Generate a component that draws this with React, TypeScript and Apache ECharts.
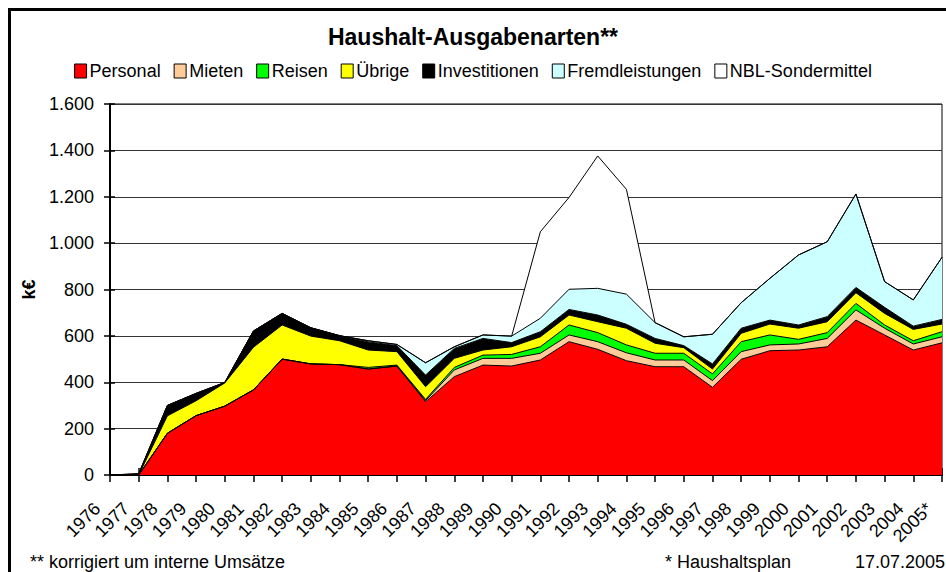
import React, { useEffect, useRef } from "react";
import * as echarts from "echarts";

const years = [
  "1976", "1977", "1978", "1979", "1980", "1981", "1982", "1983", "1984", "1985",
  "1986", "1987", "1988", "1989", "1990", "1991", "1992", "1993", "1994", "1995",
  "1996", "1997", "1998", "1999", "2000", "2001", "2002", "2003", "2004", "2005*",
];

const personal = [0, 0, 180, 256, 297, 367, 500, 479, 476, 457, 470, 316, 424, 474, 470, 496, 575, 542, 493, 467, 467, 378, 499, 536, 539, 553, 668, 604, 539, 570];
const mieten = [0, 0, 0, 0, 0, 0, 0, 0, 0, 0, 0, 5, 29, 29, 33, 29, 29, 33, 34, 29, 29, 29, 33, 25, 26, 36, 44, 29, 26, 26];
const reisen = [0, 0, 0, 0, 0, 0, 0, 0, 0, 7, 4, 5, 11, 14, 17, 28, 43, 39, 34, 29, 29, 29, 43, 43, 20, 25, 28, 14, 14, 22];
const uebrige = [0, 0, 75, 64, 100, 184, 147, 120, 103, 75, 58, 55, 39, 22, 33, 43, 43, 47, 72, 43, 24, 21, 36, 47, 48, 47, 46, 50, 49, 33];
const investitionen = [0, 5, 45, 32, 2, 70, 50, 36, 22, 35, 26, 50, 43, 50, 18, 22, 24, 29, 17, 21, 9, 22, 22, 17, 14, 22, 23, 26, 14, 20];
const fremdleistungen = [0, 0, 0, 0, 0, 0, 0, 0, 0, 5, 5, 53, 7, 15, 28, 58, 87, 115, 130, 68, 38, 128, 110, 180, 302, 323, 403, 111, 113, 268];
const nblSondermittel = [0, 0, 0, 0, 0, 0, 0, 0, 0, 0, 0, 0, 0, 0, 0, 373, 396, 571, 452, 0, 0, 0, 0, 0, 0, 0, 0, 0, 0, 0];

const seriesDefs = [
  { name: "Personal", data: personal, color: "#FF0000" },
  { name: "Mieten", data: mieten, color: "#FFCC99" },
  { name: "Reisen", data: reisen, color: "#00FF00" },
  { name: "Übrige", data: uebrige, color: "#FFFF00" },
  { name: "Investitionen", data: investitionen, color: "#000000" },
  { name: "Fremdleistungen", data: fremdleistungen, color: "#CCFFFF" },
  { name: "NBL-Sondermittel", data: nblSondermittel, color: "#FFFFFF" },
];

const FONT = "'Liberation Sans', Arial, Helvetica, sans-serif";

function fmt(v: number): string {
  const s = String(Math.round(v));
  return s.replace(/\B(?=(\d{3})+(?!\d))/g, ".");
}

export default function App() {
  const ref = useRef<HTMLDivElement>(null);

  useEffect(() => {
    if (!ref.current) return;
    const chart = echarts.init(ref.current, null, { renderer: "svg" });
    const plotW = 832;
    const plotH = 371;
    chart.setOption({
      animation: false,
      backgroundColor: "#FFFFFF",
      textStyle: { fontFamily: FONT, color: "#000" },
      title: {
        text: "Haushalt-Ausgabenarten**",
        left: "center",
        top: 25,
        padding: 0,
        textStyle: { fontSize: 23, fontWeight: "bold", color: "#000", fontFamily: FONT },
      },
      legend: {
        top: 62,
        left: "center",
        padding: 0,
        icon: "rect",
        itemWidth: 12,
        itemHeight: 14,
        itemGap: 13,
        selectedMode: false,
        itemStyle: { borderColor: "#000", borderWidth: 1 },
        lineStyle: { width: 0, opacity: 0 },
        textStyle: { fontSize: 18, color: "#000", fontFamily: FONT, padding: [0, 0, 0, -2] },
        data: seriesDefs.map((s) => s.name),
      },
      grid: {
        left: 110,
        right: 4,
        top: 104,
        bottom: 97,
        show: true,
        borderColor: "#000",
        borderWidth: 1,
        backgroundColor: "transparent",
      },
      xAxis: [
        {
          type: "category",
          data: years,
          boundaryGap: false,
          position: "bottom",
          axisLine: { show: true, lineStyle: { color: "#000", width: 2 } },
          axisTick: { show: true, length: 7, interval: 0, lineStyle: { color: "#000", width: 1.5 } },
          axisLabel: {
            rotate: 45,
            interval: 0,
            margin: 18,
            padding: [0, 18, 0, 0],
            fontSize: 18,
            color: "#000",
            fontFamily: FONT,
          },
          splitLine: { show: false },
        },
        {
          type: "category",
          data: years,
          boundaryGap: false,
          position: "top",
          offset: -plotH,
          axisLine: { show: false },
          axisTick: { show: true, length: 7, interval: 0, lineStyle: { color: "#000", width: 1.5 } },
          axisLabel: { show: false },
          splitLine: { show: false },
        },
      ],
      yAxis: [
        {
          type: "value",
          min: 0,
          max: 1600,
          interval: 200,
          position: "left",
          name: "k€",
          nameLocation: "middle",
          nameRotate: 90,
          nameGap: 70,
          nameTextStyle: { fontSize: 18, fontWeight: "bold", color: "#000", fontFamily: FONT },
          axisLine: { show: true, lineStyle: { color: "#000", width: 2 } },
          axisTick: { show: true, length: 6, lineStyle: { color: "#000", width: 1.5 } },
          axisLabel: {
            margin: 16,
            fontSize: 18,
            color: "#000",
            fontFamily: FONT,
            formatter: (v: number) => fmt(v),
          },
          splitLine: { show: true, lineStyle: { color: "#333", width: 1 } },
        },
        {
          type: "value",
          min: 0,
          max: 1600,
          interval: 200,
          position: "right",
          offset: -plotW,
          axisLine: { show: false },
          axisTick: { show: true, length: 5, lineStyle: { color: "#000", width: 1.5 } },
          axisLabel: { show: false },
          splitLine: { show: false },
        },
      ],
      series: seriesDefs.map((s) => ({
        name: s.name,
        type: "line",
        stack: "total",
        xAxisIndex: 0,
        yAxisIndex: 0,
        data: s.data,
        symbol: "none",
        showSymbol: false,
        silent: true,
        emphasis: { disabled: true },
        itemStyle: { color: s.color },
        lineStyle: { color: "#000", width: 1 },
        areaStyle: { color: s.color, opacity: 1 },
      })),
      graphic: [
        {
          type: "rect",
          z: 100,
          shape: { x: 9.5, y: 9.5, width: 1000, height: 700 },
          style: { fill: "none", stroke: "#000", lineWidth: 3 },
          silent: true,
        },
        {
          type: "text",
          x: 30,
          y: 562,
          style: {
            text: "** korrigiert um interne Umsätze",
            fontSize: 18,
            fontFamily: FONT,
            fill: "#000",
            align: "left",
            verticalAlign: "middle",
          },
        },
        {
          type: "text",
          x: 665,
          y: 562,
          style: {
            text: "* Haushaltsplan",
            fontSize: 18,
            fontFamily: FONT,
            fill: "#000",
            align: "left",
            verticalAlign: "middle",
          },
        },
        {
          type: "text",
          x: 945,
          y: 562,
          style: {
            text: "17.07.2005",
            fontSize: 18,
            fontFamily: FONT,
            fill: "#000",
            align: "right",
            verticalAlign: "middle",
          },
        },
      ],
    });
    return () => chart.dispose();
  }, []);

  return (
    <div
      ref={ref}
      style={{ position: "fixed", left: 0, top: 0, width: 946, height: 572, background: "#fff" }}
    />
  );
}
